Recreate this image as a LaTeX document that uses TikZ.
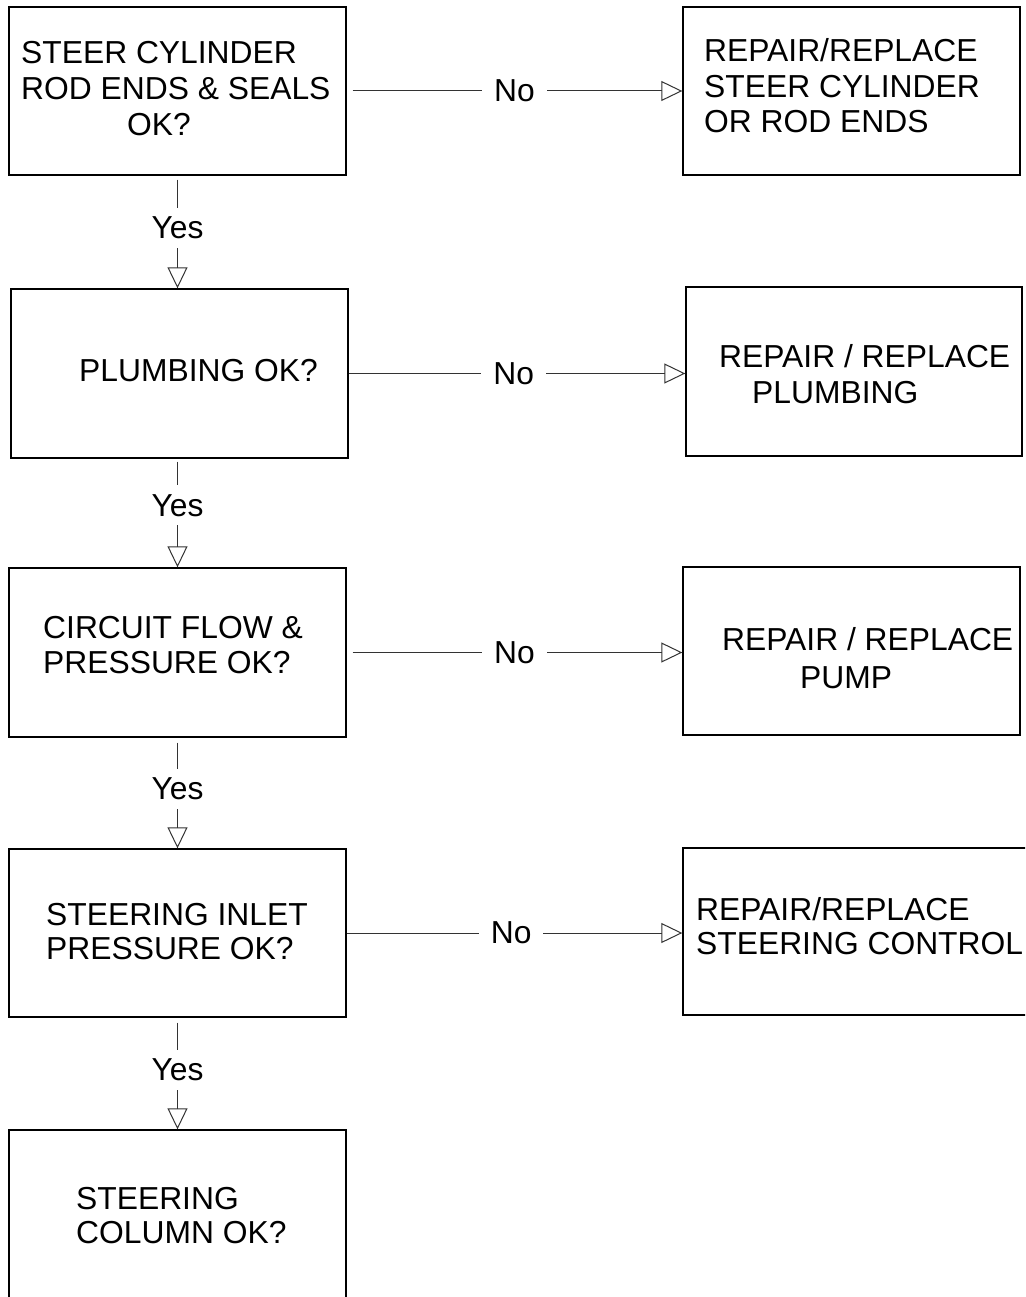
\documentclass[tikz,border=0pt]{standalone}
\usepackage{fontspec}
\setmainfont{Liberation Sans}
\usetikzlibrary{arrows.meta}
\begin{document}
\begin{tikzpicture}[x=1pt,y=-1pt,
  box/.style={draw=black, line width=1.4pt, rectangle, inner sep=0pt},
  txt/.style={inner sep=0pt, anchor=base west, font=\fontsize{31.8}{36}\selectfont},
  lbl/.style={fill=white, inner xsep=12pt, inner ysep=9pt, font=\fontsize{31.8}{36}\selectfont},
  conn/.style={draw=black!80, line width=1pt, -{Triangle[open, length=21pt, width=20pt, line width=1pt]}}
]
\useasboundingbox (0,0) rectangle (1025,1297);
\clip (0,0) rectangle (1025,1297);
\fill[white] (0,0) rectangle (1025,1297);
% boxes
\node[box, minimum width=337pt, minimum height=168pt] (b1) at (177.5,91) {};
\node[box, minimum width=337pt, minimum height=168pt] (r1) at (851.5,91) {};
\node[box, minimum width=337pt, minimum height=169pt] (b2) at (179.5,373.5) {};
\node[box, minimum width=336pt, minimum height=169pt] (r2) at (854,371.5) {};
\node[box, minimum width=337pt, minimum height=169pt] (b3) at (177.5,652.5) {};
\node[box, minimum width=337pt, minimum height=168pt] (r3) at (851.5,651) {};
\node[box, minimum width=337pt, minimum height=168pt] (b4) at (177.5,933) {};
\node[box, minimum width=352pt, minimum height=167pt] (r4) at (859,931.5) {};
\node[box, minimum width=337pt, minimum height=180pt] (b5) at (177.5,1220) {};
% texts
\node[txt] (t1a) at (21,64) {STEER CYLINDER};
\node[txt] (t1b) at (21,100) {ROD ENDS \& SEALS};
\node[txt] (t1c) at (127,136) {OK?};
\node[txt] (u1a) at (704,62) {REPAIR/REPLACE};
\node[txt] (u1b) at (704,98) {STEER CYLINDER};
\node[txt] (u1c) at (704,133) {OR ROD ENDS};
\node[txt] (t2a) at (79,381) {PLUMBING OK?};
\node[txt] (u2a) at (719,367) {REPAIR / REPLACE};
\node[txt] (u2b) at (752,403) {PLUMBING};
\node[txt] (t3a) at (43,638) {CIRCUIT FLOW \&};
\node[txt] (t3b) at (43,673) {PRESSURE OK?};
\node[txt] (u3a) at (722,650) {REPAIR / REPLACE};
\node[txt] (u3b) at (800,688) {PUMP};
\node[txt] (t4a) at (46,925) {STEERING INLET};
\node[txt] (t4b) at (46,959) {PRESSURE OK?};
\node[txt] (u4a) at (696,920) {REPAIR/REPLACE};
\node[txt] (u4b) at (696,954) {STEERING CONTROL};
\node[txt] (t5a) at (76,1209) {STEERING};
\node[txt] (t5b) at (76,1243) {COLUMN OK?};
% No connectors
\draw[conn, shorten <=6pt] (b1.east) -- node[lbl] (n1) {No} (b1.east -| r1.west);
\draw[conn] (b2.east) -- node[lbl, pos=0.49] (n2) {No} (b2.east -| r2.west);
\draw[conn, shorten <=6pt] (b3.east) -- node[lbl] (n3) {No} (b3.east -| r3.west);
\draw[conn] (b4.east) -- node[lbl, pos=0.49] (n4) {No} (b4.east -| r4.west);
% Yes connectors
\draw[conn, shorten <=4pt] (b1.south) -- node[lbl, pos=0.465, inner xsep=2pt] (y1) {Yes} (b1.south |- b2.north);
\draw[conn, shorten <=3pt] (b2.south -| b1.south) -- node[lbl, pos=0.43, inner xsep=2pt] (y2) {Yes} (b1.south |- b3.north);
\draw[conn, shorten <=5pt] (b3.south) -- node[lbl, pos=0.465, inner xsep=2pt] (y3) {Yes} (b3.south |- b4.north);
\draw[conn, shorten <=5pt] (b4.south) -- node[lbl, pos=0.465, inner xsep=2pt] (y4) {Yes} (b4.south |- b5.north);
\end{tikzpicture}
\end{document}
